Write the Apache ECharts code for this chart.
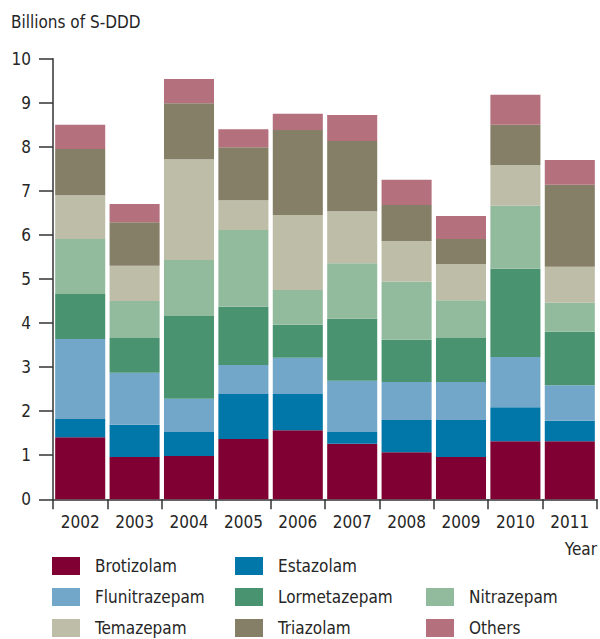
<!DOCTYPE html>
<html>
<head>
<meta charset="utf-8">
<script src="https://cdn.jsdelivr.net/npm/echarts@6/dist/echarts.min.js"></script>
<style>
  html, body { margin: 0; padding: 0; background: #fff; }
  #chart { width: 600px; height: 639px; }
</style>
</head>
<body>
<div id="chart"></div>
<script>
var years = ['2002', '2003', '2004', '2005', '2006', '2007', '2008', '2009', '2010', '2011'];
var yTicks = [0, 1, 2, 3, 4, 5, 6, 7, 8, 9, 10];

// billions of S-DDD per drug
var brotizolam    = [1.41, 0.96, 0.98, 1.37, 1.57, 1.26, 1.07, 0.96, 1.32, 1.32];
var estazolam     = [0.41, 0.73, 0.55, 1.02, 0.82, 0.27, 0.73, 0.84, 0.77, 0.46];
var flunitrazepam = [1.82, 1.18, 0.75, 0.66, 0.82, 1.16, 0.86, 0.86, 1.14, 0.81];
var lormetazepam  = [1.02, 0.79, 1.88, 1.32, 0.75, 1.41, 0.96, 1.00, 2.00, 1.21];
var nitrazepam    = [1.25, 0.84, 1.27, 1.74, 0.79, 1.26, 1.32, 0.86, 1.43, 0.66];
var temazepam     = [0.99, 0.80, 2.29, 0.68, 1.70, 1.18, 0.92, 0.82, 0.93, 0.82];
var triazolam     = [1.05, 0.99, 1.27, 1.20, 1.93, 1.59, 0.82, 0.57, 0.91, 1.86];
var others        = [0.55, 0.41, 0.55, 0.41, 0.37, 0.59, 0.57, 0.52, 0.68, 0.56];

var names  = ['Brotizolam', 'Estazolam', 'Flunitrazepam', 'Lormetazepam', 'Nitrazepam', 'Temazepam', 'Triazolam', 'Others'];
var colors = ['#800033', '#0077a8', '#72a7ca', '#4a9370', '#92bb9e', '#bdbda8', '#847f66', '#b5707e'];
var values = [brotizolam, estazolam, flunitrazepam, lormetazepam, nitrazepam, temazepam, triazolam, others];

var font = '"DejaVu Sans Condensed", "Liberation Sans Narrow", sans-serif';
var ink = '#262626';

var myChart = echarts.init(document.getElementById('chart'), null, { renderer: 'svg' });

// one vertical legend per column, anchored at the bottom so nothing wraps
function legendColumn(data, left) {
    return {
        data: data,
        orient: 'vertical',
        left: left,
        bottom: 2,
        icon: 'rect',
        itemWidth: 28,
        itemHeight: 18,
        itemGap: 13,
        padding: 0,
        selectedMode: false,
        textStyle: {
            fontFamily: font,
            fontSize: 17,
            lineHeight: 18,
            color: ink,
            padding: [0, 0, 0, 10]
        }
    };
}

var option = {
    animation: false,
    color: colors,
    textStyle: { fontFamily: font },
    title: {
        text: 'Billions of S-DDD',
        left: 11,
        top: 13,
        padding: 0,
        textStyle: { fontFamily: font, fontSize: 17, fontWeight: 'normal', color: ink }
    },
    grid: {
        left: 53,
        right: 3,
        top: 58.7,
        bottom: 139.7
    },
    legend: [
        legendColumn(['Brotizolam', 'Flunitrazepam', 'Temazepam'], 52),
        legendColumn(['Estazolam', 'Lormetazepam', 'Triazolam'], 235),
        legendColumn(['Nitrazepam', 'Others'], 426)
    ],
    xAxis: {
        type: 'category',
        data: years,
        name: 'Year',
        nameLocation: 'end',
        nameGap: 0,
        nameTextStyle: {
            fontFamily: font,
            fontSize: 17,
            color: ink,
            align: 'right',
            verticalAlign: 'top',
            padding: [41, 0, 0, 0]
        },
        axisLine: { lineStyle: { color: '#333', width: 1.5 } },
        axisTick: { show: true, length: 10, lineStyle: { color: '#333', width: 1.5 } },
        axisLabel: { fontFamily: font, fontSize: 17, color: ink, margin: 14, interval: 0 }
    },
    yAxis: {
        type: 'value',
        min: yTicks[0],
        max: yTicks[yTicks.length - 1],
        interval: 1,
        axisLine: { show: true, lineStyle: { color: '#333', width: 1.5 } },
        axisTick: { show: true, length: 14, lineStyle: { color: '#333', width: 1.5 } },
        axisLabel: { fontFamily: font, fontSize: 17, color: ink, margin: 22 },
        splitLine: { show: false }
    },
    series: names.map(function (name, i) {
        return {
            name: name,
            type: 'bar',
            stack: 'total',
            barCategoryGap: '8%',
            data: values[i]
        };
    })
};

myChart.setOption(option);
</script>
</body>
</html>
